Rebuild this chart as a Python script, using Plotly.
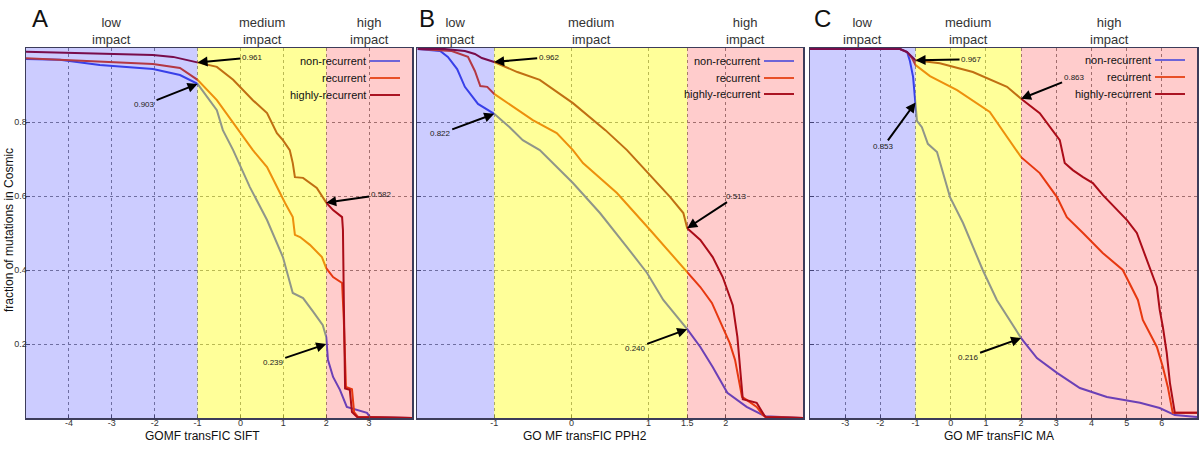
import plotly.graph_objects as go

# ---------------- data ----------------
series_names = ["non-recurrent", "recurrent", "highly-recurrent"]

# Panel A : GOMF transFIC SIFT
a_nonrec_x = [-5, -4.21, -3.28, -2.04, -1.41, -1.0, -0.55, -0.41, -0.17, 0.22, 0.62, 0.99, 1.22, 1.46, 1.69, 1.92, 2.0, 2.04, 2.16, 2.32, 2.48, 2.72, 2.95, 3.02, 4.0]
a_nonrec_y = [0.970, 0.968, 0.954, 0.943, 0.927, 0.903, 0.832, 0.778, 0.724, 0.624, 0.535, 0.435, 0.338, 0.324, 0.288, 0.251, 0.219, 0.157, 0.111, 0.076, 0.030, 0.022, 0.014, 0.003, 0.0]
a_rec_x = [-5, -2.81, -2.04, -1.41, -1.0, -0.55, -0.17, 0.22, 0.29, 0.62, 0.85, 1.04, 1.22, 1.27, 1.39, 1.62, 1.90, 2.0, 2.16, 2.37, 2.41, 2.46, 2.60, 2.65, 2.74, 4.0]
a_rec_y = [0.972, 0.960, 0.957, 0.946, 0.914, 0.859, 0.797, 0.732, 0.724, 0.678, 0.624, 0.581, 0.543, 0.495, 0.489, 0.468, 0.435, 0.405, 0.381, 0.365, 0.265, 0.084, 0.078, 0.016, 0.003, 0.0]
a_high_x = [-5, -2.81, -2.04, -1.57, -1.0, -0.55, -0.17, 0.29, 0.62, 0.85, 0.99, 1.15, 1.22, 1.27, 1.46, 1.78, 2.0, 2.16, 2.37, 2.39, 2.41, 2.44, 2.55, 2.60, 2.72, 4.0]
a_high_y = [0.990, 0.984, 0.981, 0.976, 0.961, 0.949, 0.914, 0.859, 0.824, 0.770, 0.751, 0.724, 0.689, 0.651, 0.649, 0.622, 0.582, 0.562, 0.543, 0.508, 0.319, 0.080, 0.076, 0.016, 0.003, 0.0]

# Panel B : GO MF transFIC PPH2
b_nonrec_x = [-1.99, -1.70, -1.60, -1.48, -1.38, -1.21, -1.0, -0.80, -0.63, -0.41, 0.02, 0.37, 0.72, 0.98, 1.19, 1.5, 1.67, 1.83, 2.02, 2.27, 2.51, 3.0]
b_nonrec_y = [0.997, 0.992, 0.976, 0.943, 0.895, 0.849, 0.822, 0.786, 0.751, 0.724, 0.635, 0.554, 0.462, 0.392, 0.319, 0.240, 0.192, 0.138, 0.068, 0.030, 0.005, 0.0]
b_rec_x = [-1.99, -1.55, -1.34, -1.25, -1.18, -1.09, -1.0, -0.70, -0.50, -0.19, 0.02, 0.15, 0.59, 1.02, 1.28, 1.5, 1.67, 1.82, 1.96, 2.05, 2.12, 2.16, 2.21, 2.27, 2.40, 2.48, 2.52, 3.0]
b_rec_y = [0.997, 0.992, 0.976, 0.938, 0.897, 0.895, 0.876, 0.832, 0.805, 0.770, 0.724, 0.689, 0.608, 0.508, 0.446, 0.392, 0.354, 0.311, 0.246, 0.203, 0.157, 0.111, 0.057, 0.049, 0.030, 0.008, 0.003, 0.0]
b_high_x = [-1.99, -1.64, -1.38, -1.25, -1.16, -1.0, -0.70, -0.41, 0.02, 0.44, 0.72, 1.02, 1.28, 1.45, 1.5, 1.67, 1.83, 1.96, 2.09, 2.15, 2.18, 2.21, 2.22, 2.40, 2.47, 2.51, 3.0]
b_high_y = [0.997, 0.997, 0.992, 0.984, 0.973, 0.962, 0.935, 0.914, 0.851, 0.778, 0.724, 0.657, 0.597, 0.554, 0.513, 0.481, 0.435, 0.381, 0.305, 0.219, 0.138, 0.057, 0.051, 0.041, 0.016, 0.003, 0.0]

# Panel C : GO MF transFIC MA
c_nonrec_x = [-4, -1.44, -1.24, -1.16, -1.07, -1.0, -0.96, -0.82, -0.65, -0.39, -0.02, 0.35, 0.91, 1.31, 1.68, 2.0, 2.45, 3.02, 3.67, 4.44, 5.38, 5.94, 6.37, 7.0]
c_nonrec_y = [0.997, 0.997, 0.989, 0.965, 0.922, 0.853, 0.803, 0.786, 0.741, 0.719, 0.597, 0.527, 0.400, 0.319, 0.265, 0.216, 0.162, 0.122, 0.081, 0.057, 0.041, 0.027, 0.008, 0.003]
c_rec_x = [-4, -1.44, -1.24, -1.10, -1.0, -0.59, 0.18, 1.11, 2.0, 2.53, 3.02, 3.30, 3.76, 4.32, 4.89, 5.32, 5.46, 5.86, 6.03, 6.17, 6.31, 7.0]
c_rec_y = [0.997, 0.997, 0.989, 0.973, 0.954, 0.924, 0.886, 0.827, 0.705, 0.662, 0.597, 0.543, 0.500, 0.446, 0.400, 0.319, 0.265, 0.192, 0.138, 0.084, 0.014, 0.014]
c_high_x = [-4, -1.44, -1.24, -1.0, -0.31, 0.63, 1.60, 2.0, 2.53, 2.90, 3.10, 3.24, 3.47, 3.76, 4.04, 4.32, 4.66, 5.01, 5.29, 5.57, 5.86, 5.94, 6.03, 6.14, 6.23, 6.37, 7.0]
c_high_y = [0.997, 0.997, 0.989, 0.967, 0.959, 0.935, 0.895, 0.863, 0.824, 0.778, 0.751, 0.689, 0.670, 0.651, 0.635, 0.603, 0.570, 0.535, 0.500, 0.427, 0.354, 0.292, 0.246, 0.176, 0.095, 0.014, 0.014]

# axis settings
a_range = [-5, 4]
b_range = [-2, 3]
c_range = [-4, 7]
a_ticks = [-4, -3, -2, -1, 0, 1, 2, 3]
b_ticks = [-1, 0, 1, 1.5, 2]
c_ticks = [-3, -2, -1, 0, 1, 2, 3, 4, 5, 6]
y_ticks = [0.2, 0.4, 0.6, 0.8]

# impact region boundaries (low | medium | high)
a_bounds = [-5, -1, 2, 4]
b_bounds = [-2, -1, 1.5, 3]
c_bounds = [-4, -1, 2, 7]

a_xtitle = "GOMF transFIC SIFT"
b_xtitle = "GO MF transFIC PPH2"
c_xtitle = "GO MF transFIC MA"
region_labels = ["low<br>impact", "medium<br>impact", "high<br>impact"]

# labelled points: (x, y, text, ax, ay)
a_marks = [(-1, 0.961, "0.961", 55, -5), (-1, 0.903, "0.903", -53, 21),
           (2, 0.582, "0.582", 55, -8), (2, 0.200, "0.239", -53, 18)]
b_marks = [(-1, 0.962, "0.962", 55, -5), (-1, 0.822, "0.822", -54, 20),
           (1.5, 0.513, "0.513", 49, -32), (1.5, 0.240, "0.240", -52, 19)]
c_marks = [(-1, 0.967, "0.967", 56, -1), (-1, 0.853, "0.853", -32, 44),
           (2, 0.863, "0.863", 53, -21), (2, 0.216, "0.216", -53, 19)]

# ---------------- styling ----------------
W, H = 1200, 450
line_colors = ["rgb(70,80,228)", "rgb(225,70,20)", "rgb(150,15,30)"]
legend_colors = ["rgb(110,100,215)", "rgb(232,80,40)", "rgb(170,20,35)"]
region_fill = ["rgba(0,0,255,0.2)", "rgba(255,255,0,0.4)", "rgba(255,0,0,0.2)"]
SANS = "Liberation Sans, Arial, sans-serif"

ytop_px, ybot_px = 48, 418
panels = [
    dict(name="A", xs="x", ys="y", dom=(26, 412), rng=a_range, ticks=a_ticks, bounds=a_bounds,
         title=a_xtitle, title_x=202, letter_x=40, legend_x=368, legend_y=[61, 78, 95],
         data=[(a_nonrec_x, a_nonrec_y), (a_rec_x, a_rec_y), (a_high_x, a_high_y)], marks=a_marks),
    dict(name="B", xs="x2", ys="y2", dom=(417, 803), rng=b_range, ticks=b_ticks, bounds=b_bounds,
         title=b_xtitle, title_x=585, letter_x=427, legend_x=762, legend_y=[61, 78, 94],
         data=[(b_nonrec_x, b_nonrec_y), (b_rec_x, b_rec_y), (b_high_x, b_high_y)], marks=b_marks),
    dict(name="C", xs="x3", ys="y3", dom=(810, 1197), rng=c_range, ticks=c_ticks, bounds=c_bounds,
         title=c_xtitle, title_x=999, letter_x=822, legend_x=1153, legend_y=[60, 77, 94],
         data=[(c_nonrec_x, c_nonrec_y), (c_rec_x, c_rec_y), (c_high_x, c_high_y)], marks=c_marks),
]


def px_x(p):
    return p / W


def px_y(p):
    return 1 - p / H


fig = go.Figure()
shapes = []
annotations = []
layout = dict(width=W, height=H, margin=dict(l=0, r=0, t=0, b=0, pad=0),
              paper_bgcolor="white", plot_bgcolor="white", showlegend=False,
              font=dict(family=SANS, color="#222"))

ydom = [px_y(ybot_px), px_y(ytop_px)]

for i, p in enumerate(panels):
    suffix = "" if i == 0 else str(i + 1)
    for (xv, yv), nm, col in zip(p["data"], series_names, line_colors):
        fig.add_trace(go.Scatter(x=xv, y=yv, mode="lines", name=nm,
                                 line=dict(color=col, width=2),
                                 xaxis=p["xs"], yaxis=p["ys"], hoverinfo="skip"))
    layout["xaxis" + suffix] = dict(
        domain=[px_x(p["dom"][0]), px_x(p["dom"][1])], range=p["rng"], anchor=p["ys"],
        tickmode="array", tickvals=p["ticks"], ticktext=[("%g" % t) for t in p["ticks"]],
        ticks="inside", ticklen=3, tickcolor="#555",
        showgrid=True, gridcolor="#8a8a8a", griddash="dot", gridwidth=1,
        zeroline=False, showline=True, linecolor="#3c3c5a", linewidth=1.5, mirror=True,
        tickfont=dict(size=9, color="#333", family=SANS), fixedrange=True)
    layout["yaxis" + suffix] = dict(
        domain=ydom, range=[0, 1], anchor=p["xs"],
        tickmode="array", tickvals=y_ticks, ticktext=[("%g" % t) for t in y_ticks],
        showticklabels=(i == 0),
        ticks="inside", ticklen=4, tickcolor="#555",
        showgrid=True, gridcolor="#8a8a8a", griddash="dot", gridwidth=1,
        zeroline=False, showline=True, linecolor="#3c3c5a", linewidth=1.5, mirror=True,
        tickfont=dict(size=9, color="#333", family=SANS), fixedrange=True)

    # impact regions overlay
    b = p["bounds"]
    for k in range(3):
        shapes.append(dict(type="rect", xref=p["xs"], yref=p["ys"], x0=b[k], x1=b[k + 1], y0=0, y1=1,
                           fillcolor=region_fill[k], line=dict(width=0), layer="above"))
        annotations.append(dict(text=region_labels[k], xref=p["xs"], yref="paper",
                                x=(b[k] + b[k + 1]) / 2, y=px_y(31), showarrow=False,
                                font=dict(size=13, color="#333", family=SANS),
                                xanchor="center", yanchor="middle"))

    # legend (text right-aligned, line sample to the right)
    for k in range(3):
        ly = p["legend_y"][k]
        annotations.append(dict(text=series_names[k], xref="paper", yref="paper",
                                x=px_x(p["legend_x"]), y=px_y(ly), xanchor="right", yanchor="middle",
                                showarrow=False, font=dict(size=11, color="#111", family=SANS)))
        shapes.append(dict(type="line", xref="paper", yref="paper",
                           x0=px_x(p["legend_x"] + 2), x1=px_x(p["legend_x"] + 32),
                           y0=px_y(ly), y1=px_y(ly), line=dict(color=legend_colors[k], width=2),
                           layer="above"))

    # labelled points with arrows
    for (mx, my, mt, ax, ay) in p["marks"]:
        annotations.append(dict(x=mx, y=my, xref=p["xs"], yref=p["ys"], text=mt,
                                showarrow=True, arrowhead=2, arrowsize=1, arrowwidth=2,
                                arrowcolor="black", ax=ax, ay=ay, standoff=0, startstandoff=0,
                                font=dict(size=8, color="#222", family=SANS)))

    # x-axis title
    annotations.append(dict(text=p["title"], xref="paper", yref="paper", x=px_x(p["title_x"]),
                            y=px_y(436), showarrow=False, xanchor="center", yanchor="middle",
                            font=dict(size=12, color="#111", family=SANS)))
    # panel letter
    annotations.append(dict(text=p["name"], xref="paper", yref="paper", x=px_x(p["letter_x"]),
                            y=px_y(18), showarrow=False, xanchor="center", yanchor="middle",
                            font=dict(size=24, color="#111", family=SANS)))

# y-axis title
annotations.append(dict(text="fraction of mutations in Cosmic", xref="paper", yref="paper",
                        x=px_x(9), y=px_y(230), textangle=-90, showarrow=False,
                        xanchor="center", yanchor="middle",
                        font=dict(size=12, color="#111", family=SANS)))

layout["shapes"] = shapes
layout["annotations"] = annotations
fig.update_layout(**layout)

# pull tick labels closer to the axes, as in the reference
for ax_name in ["xaxis", "xaxis2", "xaxis3", "yaxis"]:
    try:
        fig.layout[ax_name].ticklabelstandoff = -4
    except Exception:
        pass

fig.write_html("out.html", config={"displayModeBar": False, "staticPlot": True},
               post_script="document.body.style.margin='0';document.body.style.padding='0';")
